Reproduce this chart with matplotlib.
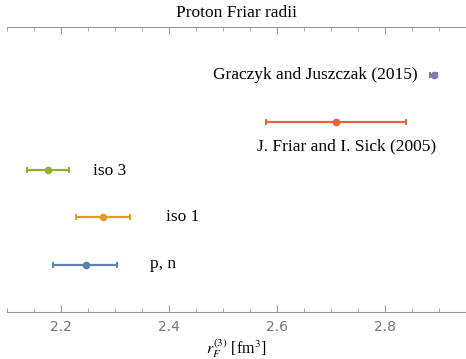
import matplotlib as mpl
import matplotlib.pyplot as plt
from matplotlib.ticker import MultipleLocator

mpl.rcParams['mathtext.fontset'] = 'stix'

# data
labels = ['p, n', 'iso 1', 'iso 3', 'J. Friar and I. Sick (2005)', 'Graczyk and Juszczak (2015)']
centers = [2.246, 2.277, 2.176, 2.710, 2.890]
lows = [2.186, 2.227, 2.137, 2.579, 2.884]
highs = [2.303, 2.327, 2.215, 2.839, 2.896]
rows = [1, 2, 3, 4, 5]
colors = ['#5E81B5', '#E19C24', '#8FB032', '#EB6235', '#8778B3']
# label anchor (x in data units, y offset in rows)
label_x = [2.365, 2.394, 2.259, 2.563, 2.861]
label_dy = [0.0, 0.0, -0.04, -0.52, -0.02]
label_ha = ['left', 'left', 'left', 'left', 'right']

fig = plt.figure(figsize=(4.66, 3.59), dpi=100)
ax = fig.add_axes([7 / 466, 1 - 312 / 359, 459 / 466, 285 / 359])

for c, lo, hi, y, col in zip(centers, lows, highs, rows, colors):
    ax.errorbar(c, y, xerr=[[c - lo], [hi - c]], fmt='o', color=col,
                ms=4.5, elinewidth=1.6, capsize=2.5, capthick=1.4)

for lab, x, y, dy, ha in zip(labels, label_x, rows, label_dy, label_ha):
    ax.text(x, y + dy, lab, ha=ha, va='center', family='Liberation Serif', fontsize=12.5)

ax.set_xlim(2.1, 2.95)
ax.set_ylim(0, 6)
ax.xaxis.set_major_locator(MultipleLocator(0.2))
ax.xaxis.set_minor_locator(MultipleLocator(0.05))
ax.set_yticks([])
for s in ['left', 'right']:
    ax.spines[s].set_visible(False)
for s in ['top', 'bottom']:
    ax.spines[s].set_color('#999999')
ax.tick_params(axis='x', which='both', direction='in', top=True, color='#999999',
               labelcolor='#777777', labelsize=10, pad=6)
ax.tick_params(axis='x', which='major', length=5)
ax.tick_params(axis='x', which='minor', length=3)
for t in ax.get_xticklabels():
    t.set_family('DejaVu Sans')

ax.set_title('Proton Friar radii', family='Liberation Serif', fontsize=12.5, pad=7)
ax.set_xlabel(r'$r_F^{(3)}$ [fm$^3$]', family='Liberation Serif', fontsize=11.5, labelpad=2)

fig.savefig('out.png', dpi=100)
